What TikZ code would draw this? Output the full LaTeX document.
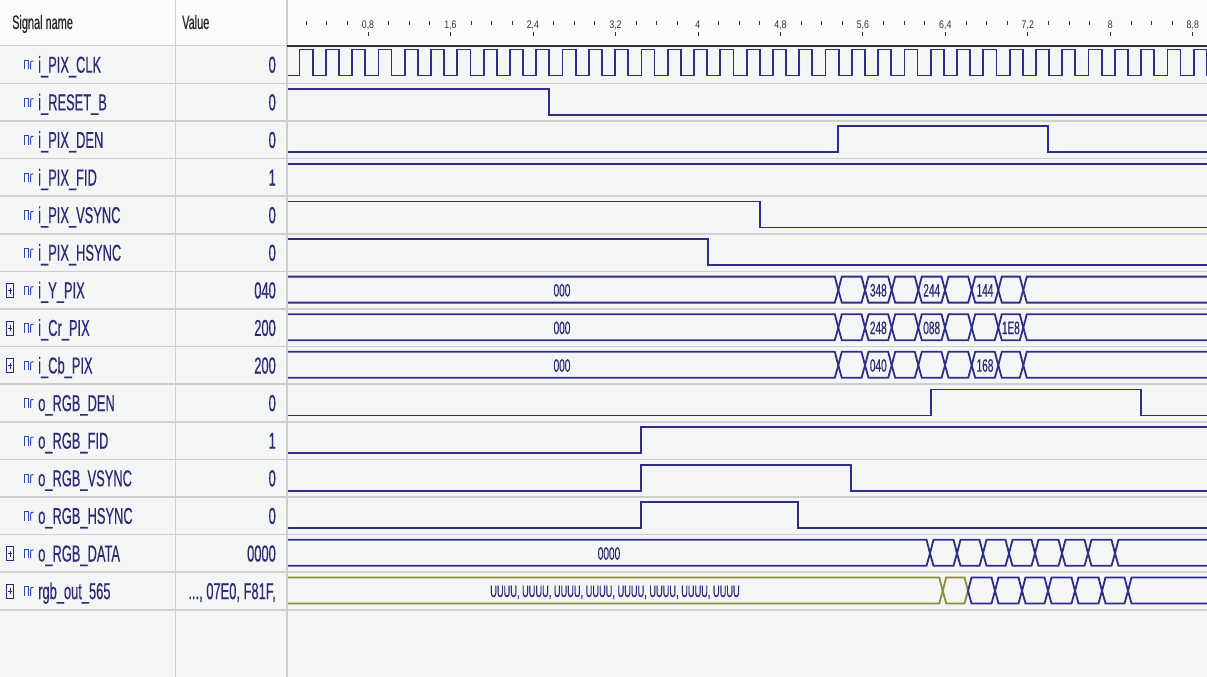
\documentclass[tikz,border=0pt]{standalone}
\usepackage{fontspec}
\newfontfamily\nmfont{Liberation Sans}[FakeStretch=0.56,FakeBold=0.4]
\newfontfamily\axfont{Liberation Sans}[FakeStretch=0.8]
\definecolor{bgc}{RGB}{244,246,246}
\definecolor{hdrc}{RGB}{251,251,251}
\definecolor{sepc}{RGB}{206,206,206}
\definecolor{wavec}{RGB}{46,46,136}
\definecolor{namec}{RGB}{42,42,118}
\definecolor{iconc}{RGB}{50,70,170}
\definecolor{olivec}{RGB}{140,140,52}
\definecolor{axc}{RGB}{50,50,50}
\tikzset{
  wave/.style={draw=wavec, line width=1.8pt, line join=miter},
  owave/.style={draw=olivec, line width=1.8pt, line join=miter},
  sname/.style={anchor=base west, inner sep=0pt, text=namec, font=\nmfont\fontsize{23}{23}\selectfont},
  sval/.style={anchor=base east, inner sep=0pt, text=namec, font=\nmfont\fontsize{23}{23}\selectfont},
  hdr/.style={anchor=base west, inner sep=0pt, text=black!85, font=\nmfont\fontsize{19.5}{19.5}\selectfont},
  blabel/.style={anchor=base, inner sep=0pt, text=namec, font=\nmfont\fontsize{18}{18}\selectfont},
  ulabel/.style={anchor=base, inner sep=0pt, text=namec, font=\nmfont\fontsize{16.5}{16.5}\selectfont},
  axlabel/.style={anchor=base, inner sep=0pt, text=axc, font=\axfont\fontsize{11}{11}\selectfont},
  sepline/.style={draw=sepc, line width=1.6pt},
  tick/.style={draw=axc, line width=0.8pt}
}
\def\H{-13.5}
\def\L{12.5}
\newcommand\sigicon[1]{%
  \draw[iconc, line width=1pt] (24.5,#1+5) -- (24.5,#1-4) -- (28.5,#1-4) -- (28.5,#1+5);
  \draw[iconc, line width=1pt] (30.5,#1+5) -- (30.5,#1-1) .. controls (30.8,#1-3.5) .. (33.5,#1-3.5);}
\newcommand\plusbox[1]{%
  \draw[namec, line width=0.9pt] (6.5,#1-6.5) rectangle (13.5,#1+7.5);
  \draw[namec, line width=0.9pt] (8,#1+0.5) -- (12,#1+0.5) (10,#1-2.5) -- (10,#1+3.5);}
\newcommand\busstart[2][wave]{\draw[#1] (288,\H) -- ({#2-3.5},\H) -- (#2,0) -- ({#2-3.5},\L) -- (288,\L);}
\newcommand\busend[2][wave]{\draw[#1] (1207,\H) -- ({#2+3.5},\H) -- (#2,0) -- ({#2+3.5},\L) -- (1207,\L);}
\newcommand\hexes[2][wave]{\foreach \a/\b in {#2}{\draw[#1] (\a,0) -- ({\a+3.5},\H) -- ({\b-3.5},\H) -- (\b,0) -- ({\b-3.5},\L) -- ({\a+3.5},\L) -- cycle;}}
\begin{document}
\begin{tikzpicture}[x=1pt,y=-1pt]
\useasboundingbox (0,0) rectangle (1207,677);
\fill[bgc] (0,0) rectangle (1207,677);
\fill[hdrc] (0,0) rectangle (1207,45);
% separators
\draw[sepline] (0,45.7) -- (287,45.7);
\foreach \k in {1,...,15}{
  \pgfmathsetmacro\s{64.5+37.6*(\k-1)+18.8}
  \draw[sepline] (0,\s) -- (1207,\s);
}
\draw[sepline] (175.5,0) -- (175.5,677);
\draw[sepline] (287,0) -- (287,677);
\draw[draw=axc, line width=1.6pt] (287,46) -- (1207,46);
% header
\node[hdr] (hname) at (12,29) {Signal name};
\node[hdr] (hval) at (182,29) {Value};
% time axis
\foreach \j in {1,...,44}{
  \pgfmathsetmacro\tx{285.5+103.1*0.2*\j}
  \pgfmathtruncatemacro\m{mod(\j,4)}
  \ifnum\m=0\relax
    \draw[tick] (\tx,32) -- (\tx,36);
  \else
    \draw[tick] (\tx,21.5) -- (\tx,25);
  \fi
}
\foreach \lab [count=\i] in {{0,8},{1,6},{2,4},{3,2},4,{4,8},{5,6},{6,4},{7,2},8,{8,8}}{
  \pgfmathsetmacro\tx{285.5+103.1*0.8*\i}
  \node[axlabel] (t\i) at (\tx,28.5) {\lab};
}
% names and values
\foreach \k/\nm/\val/\isbus in {1/i\_PIX\_CLK/0/0, 2/i\_RESET\_B/0/0, 3/i\_PIX\_DEN/0/0, 4/i\_PIX\_FID/1/0, 5/i\_PIX\_VSYNC/0/0, 6/i\_PIX\_HSYNC/0/0, 7/i\_Y\_PIX/040/1, 8/i\_Cr\_PIX/200/1, 9/i\_Cb\_PIX/200/1, 10/o\_RGB\_DEN/0/0, 11/o\_RGB\_FID/1/0, 12/o\_RGB\_VSYNC/0/0, 13/o\_RGB\_HSYNC/0/0, 14/o\_RGB\_DATA/0000/1, 15/rgb\_out\_565/{..., 07E0, F81F,}/1}{
  \pgfmathsetmacro\c{64.5+37.6*(\k-1)}
  \node[sname] (n\k) at (38,\c+8.2) {\nm};
  \node[sval] (v\k) at (276,\c+8.2) {\val};
  \sigicon{\c}
  \ifnum\isbus=1\relax \plusbox{\c}\fi
}
% row 1: clock
\begin{scope}[shift={(0,63)}]
\draw[wave] (288,\L) \foreach \k in {0,...,34}{ -- ({299.5+26.3*\k},\L) -- ({299.5+26.3*\k},\H) -- ({312.65+26.3*\k},\H) -- ({312.65+26.3*\k},\L) };
\end{scope}
% row 2: i_RESET_B
\begin{scope}[shift={(0,102.1)}]
\draw[wave] (288,\H) -- (549,\H) -- (549,\L) -- (1207,\L);
\end{scope}
% row 3: i_PIX_DEN
\begin{scope}[shift={(0,139.7)}]
\draw[wave] (288,\L) -- (838,\L) -- (838,\H) -- (1048,\H) -- (1048,\L) -- (1207,\L);
\end{scope}
% row 4: i_PIX_FID
\begin{scope}[shift={(0,177.3)}]
\draw[wave] (288,\H) -- (1207,\H);
\end{scope}
% row 5: i_PIX_VSYNC
\begin{scope}[shift={(0,214.9)}]
\draw[wave] (288,\H) -- (760,\H) -- (760,\L) -- (1207,\L);
\end{scope}
% row 6: i_PIX_HSYNC
\begin{scope}[shift={(0,252.5)}]
\draw[wave] (288,\H) -- (708,\H) -- (708,\L) -- (1207,\L);
\end{scope}
% rows 7-9: buses
\foreach \c/\la/\lb/\lc/\xa/\xb/\xc in {290.1/348/244/144/878.3/931.7/985, 327.7/248/088/1E8/878.3/931.7/1010.8, 365.3/040//168/878.3/931.7/985}{
\begin{scope}[shift={(0,\c)}]
\busstart{838.3}
\hexes{838.3/865, 865/891.7, 891.7/918.3, 918.3/945, 945/971.7, 971.7/998.3, 998.3/1023.3}
\busend{1023.3}
\node[blabel] at (562,6.4) {000};
\node[blabel] at (\xa,6.4) {\la};
\node[blabel] at (\xb,6.4) {\lb};
\node[blabel] at (\xc,6.4) {\lc};
\end{scope}
}
% row 10: o_RGB_DEN
\begin{scope}[shift={(0,402.9)}]
\draw[wave] (288,\L) -- (931,\L) -- (931,\H) -- (1141,\H) -- (1141,\L) -- (1207,\L);
\end{scope}
% row 11: o_RGB_FID
\begin{scope}[shift={(0,440.5)}]
\draw[wave] (288,\L) -- (641,\L) -- (641,\H) -- (1207,\H);
\end{scope}
% row 12: o_RGB_VSYNC
\begin{scope}[shift={(0,478.1)}]
\draw[wave] (288,\L) -- (641,\L) -- (641,\H) -- (851,\H) -- (851,\L) -- (1207,\L);
\end{scope}
% row 13: o_RGB_HSYNC
\begin{scope}[shift={(0,515.7)}]
\draw[wave] (288,\L) -- (641,\L) -- (641,\H) -- (798,\H) -- (798,\L) -- (1207,\L);
\end{scope}
% row 14: o_RGB_DATA
\begin{scope}[shift={(0,553.3)}]
\busstart{930}
\hexes{930/957, 957/983, 983/1009, 1009/1035, 1035/1062, 1062/1088, 1088/1115}
\busend{1115}
\node[blabel] (d0) at (609,6.4) {0000};
\end{scope}
% row 15: rgb_out_565
\begin{scope}[shift={(0,590.9)}]
\busstart[owave]{942.7}
\hexes[owave]{942.7/968}
\hexes{968/995, 995/1022, 1022/1048, 1048/1075, 1075/1102, 1102/1128}
\busend{1128}
\node[ulabel] (u0) at (615,6) {UUUU, UUUU, UUUU, UUUU, UUUU, UUUU, UUUU, UUUU};
\end{scope}
\end{tikzpicture}
\end{document}
